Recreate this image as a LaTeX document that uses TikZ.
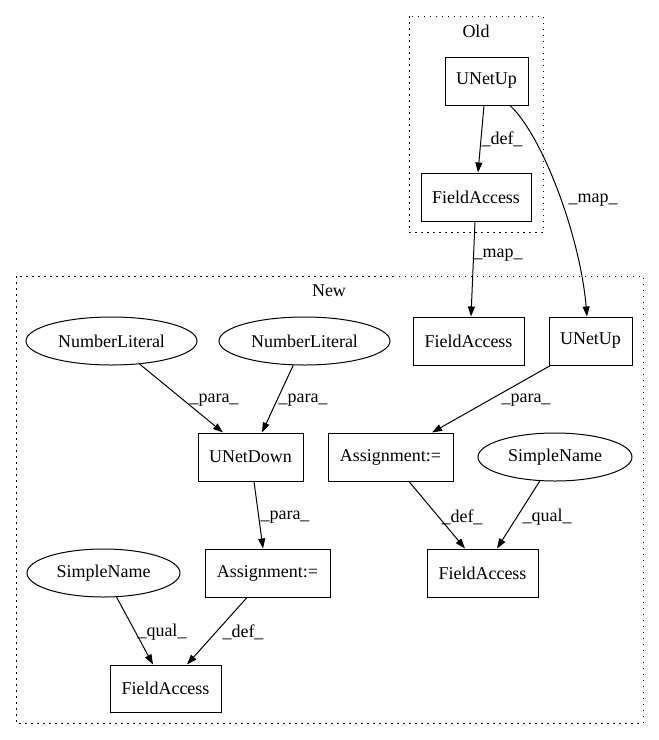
\documentclass[tikz,border=0pt]{standalone}
\usepackage{fontspec}
\setmainfont{Liberation Serif}
\usetikzlibrary{arrows.meta,shapes.geometric}
\begin{document}
\begin{tikzpicture}[x=1pt,y=-1pt,
  every node/.style={font=\fontsize{18}{20}\selectfont},
  box/.style={draw,line width=1pt,rectangle,inner sep=0pt,minimum height=48pt},
  oval/.style={draw,line width=1pt,ellipse,inner sep=0pt,minimum height=48pt},
  cluster/.style={draw,line width=1pt,dash pattern=on 1.5pt off 4.5pt},
  edge/.style={line width=1pt,-{Triangle[length=10pt,width=7pt]}},
  lbl/.style={inner sep=0pt}]
\useasboundingbox (0,0) rectangle (659,740);
% clusters
\draw[cluster] (409,16) rectangle (543,232);
\node[lbl] (oldlbl) at (476,31) {Old};
\draw[cluster] (16,276) rectangle (643,723);
\node[lbl] (newlbl) at (329,291) {New};
% nodes
\node[box,minimum width=83pt] (oldUp) at (486.5,81) {UNetUp};
\node[box,minimum width=110pt] (oldFA) at (476,197) {FieldAccess};
\node[box,minimum width=111pt] (newFA) at (468.5,341) {FieldAccess};
\node[box,minimum width=83pt] (newUp) at (590.5,341) {UNetUp};
\node[oval,minimum width=171pt] (nl1) at (111.5,341) {NumberLiteral};
\node[oval,minimum width=171pt] (nl2) at (304.5,341) {NumberLiteral};
\node[box,minimum width=105pt] (down) at (250.5,457) {UNetDown};
\node[box,minimum width=125pt] (asgR) at (390.5,457) {Assignment:=};
\node[oval,minimum width=154pt] (snR) at (555,457) {SimpleName};
\node[box,minimum width=125pt] (asgL) at (267.5,573) {Assignment:=};
\node[oval,minimum width=153pt] (snL) at (103.5,573) {SimpleName};
\node[box,minimum width=111pt] (faR) at (482.5,573) {FieldAccess};
\node[box,minimum width=111pt,minimum height=47pt] (faL) at (165.5,688.5) {FieldAccess};
% edges
\draw[edge] ([xshift=-2.5pt]oldUp.south) -- ([xshift=2pt]oldFA.north);
\node[lbl] (l1) at (502,139) {\_def\_};
\draw[edge] ([xshift=23.5pt]oldUp.south) .. controls (542,135) and (580,235) .. ([xshift=-3.5pt]newUp.north);
\node[lbl] (l2) at (593,200) {\_map\_};
\draw[edge] ([xshift=-1pt]oldFA.south) -- ([xshift=2.5pt]newFA.north);
\node[lbl] (l3) at (498,255) {\_map\_};
\draw[edge] (nl1) -- ([xshift=-27.5pt]down.north);
\node[lbl] (l4) at (214,400) {\_para\_};
\draw[edge] (nl2) -- ([xshift=11.5pt]down.north);
\node[lbl] (l5) at (303,400) {\_para\_};
\draw[edge] ([xshift=3.5pt]down.south) -- ([xshift=-4.5pt]asgL.north);
\node[lbl] (l6) at (285,517) {\_para\_};
\draw[edge] ([xshift=-40pt]newUp.south) -- ([xshift=41.5pt]asgR.north);
\node[lbl] (l7) at (526,400) {\_para\_};
\draw[edge] ([xshift=18.5pt]asgR.south) -- ([xshift=-17.5pt]faR.north);
\node[lbl] (l8) at (462,517) {\_def\_};
\draw[edge] (snR) -- ([xshift=14.5pt]faR.north);
\node[lbl] (l9) at (547,517) {\_qual\_};
\draw[edge] (snL) -- ([xshift=-12.5pt]faL.north);
\node[lbl] (l10) at (162,632) {\_qual\_};
\draw[edge] ([xshift=-20.5pt]asgL.south) -- ([xshift=21.5pt]faL.north);
\node[lbl] (l11) at (243,632) {\_def\_};
\end{tikzpicture}
\end{document}
